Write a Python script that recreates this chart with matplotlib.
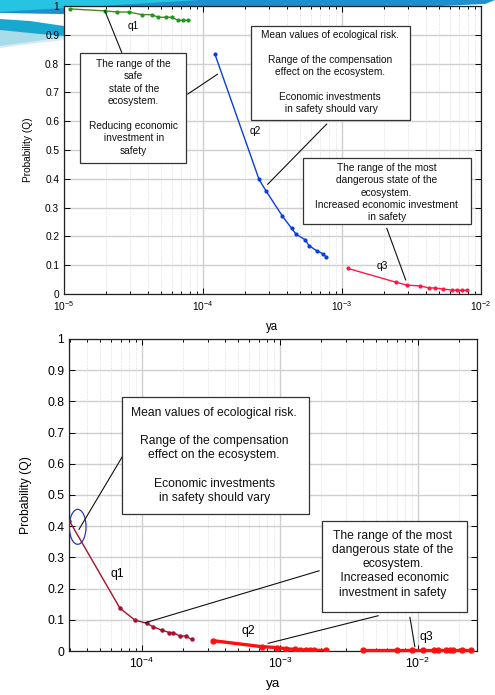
import matplotlib
matplotlib.use("Agg")
import matplotlib.pyplot as plt
from matplotlib.patches import Rectangle, Ellipse, Polygon

plt.rcParams['font.family'] = ['Liberation Sans', 'DejaVu Sans']
plt.rcParams['mathtext.fontset'] = 'custom'
plt.rcParams['mathtext.rm'] = 'Liberation Sans'
plt.rcParams['mathtext.it'] = 'Liberation Sans:italic'

# ---------------- data: top panel ----------------
top_q1_x = [1.10e-5, 1.97e-5, 2.42e-5, 2.94e-5, 3.62e-5, 4.28e-5, 4.77e-5, 5.39e-5, 5.96e-5, 6.64e-5, 7.14e-5, 7.84e-5]
top_q1_y = [0.990, 0.983, 0.979, 0.979, 0.970, 0.970, 0.961, 0.961, 0.961, 0.950, 0.950, 0.950]
top_q2_x = [1.22e-4, 2.53e-4, 2.83e-4, 3.72e-4, 4.34e-4, 4.67e-4, 5.44e-4, 5.79e-4, 6.58e-4, 7.33e-4, 7.70e-4]
top_q2_y = [0.832, 0.398, 0.359, 0.271, 0.228, 0.208, 0.188, 0.168, 0.150, 0.139, 0.128]
top_q3_x = [1.10e-3, 2.44e-3, 2.92e-3, 3.64e-3, 4.25e-3, 4.67e-3, 5.36e-3, 6.15e-3, 6.68e-3, 7.26e-3, 7.89e-3]
top_q3_y = [0.089, 0.041, 0.031, 0.028, 0.021, 0.021, 0.017, 0.014, 0.013, 0.013, 0.013]

# ---------------- data: bottom panel ----------------
bot_q1_x = [2.97e-5, 6.93e-5, 8.89e-5, 1.08e-4, 1.20e-4, 1.39e-4, 1.58e-4, 1.69e-4, 1.88e-4, 2.08e-4, 2.29e-4]
bot_q1_y = [0.418, 0.137, 0.099, 0.089, 0.078, 0.067, 0.059, 0.059, 0.048, 0.048, 0.037]
bot_q2_x = [3.29e-4, 7.36e-4, 9.46e-4, 1.10e-3, 1.28e-3, 1.40e-3, 1.54e-3, 1.65e-3, 1.76e-3, 2.15e-3]
bot_q2_y = [0.033, 0.014, 0.011, 0.0075, 0.005, 0.004, 0.003, 0.003, 0.002, 0.002]
bot_q3_x = [3.97e-3, 7.01e-3, 9.0e-3, 1.09e-2, 1.31e-2, 1.40e-2, 1.61e-2, 1.71e-2, 1.80e-2, 2.10e-2, 2.41e-2]
bot_q3_y = [0.002, 0.002, 0.002, 0.002, 0.002, 0.002, 0.002, 0.002, 0.002, 0.002, 0.002]

y_ticks = [0, 0.1, 0.2, 0.3, 0.4, 0.5, 0.6, 0.7, 0.8, 0.9, 1]
y_ticklabels = ['0', '0.1', '0.2', '0.3', '0.4', '0.5', '0.6', '0.7', '0.8', '0.9', '1']

top_box1 = "The range of the\nsafe\n state of the\necosystem.\n\nReducing economic\n investment in\nsafety"
top_box2 = "Mean values of ecological risk.\n\nRange of the compensation\neffect on the ecosystem.\n\nEconomic investments\n in safety should vary"
top_box3 = "The range of the most\ndangerous state of the\necosystem.\nIncreased economic investment\nin safety"
bot_box1 = "Mean values of ecological risk.\n\nRange of the compensation\neffect on the ecosystem.\n\nEconomic investments\nin safety should vary"
bot_box2 = "The range of the most\ndangerous state of the\necosystem.\n Increased economic\ninvestment in safety"

W, H = 495, 695
fig = plt.figure(figsize=(W / 100, H / 100), dpi=100)
fig.patch.set_facecolor('white')

# decorative background swooshes (figure pixel coords, y down)
def fpoly(pts, color, alpha=1.0):
    p = Polygon([(x / W, 1 - y / H) for x, y in pts], closed=True,
                transform=fig.transFigure, facecolor=color, edgecolor='none', alpha=alpha, zorder=-10)
    fig.patches.append(p)

fpoly([(0, 0), (495, 0), (485, 4), (420, 7), (300, 9), (150, 12), (60, 14), (0, 13)], '#1f8fd0')
fpoly([(0, 0), (200, 0), (100, 6), (30, 10), (0, 12)], '#27c3e3')
fpoly([(0, 19), (30, 21), (64, 26), (64, 37), (30, 42), (0, 46)], '#18a8cf')
fpoly([(0, 30), (40, 34), (64, 36), (64, 40), (30, 44), (0, 48)], '#cfe8f0', 0.8)

def style_axes(ax, fs):
    ax.set_zorder(1)
    ax.set_yticks(y_ticks)
    ax.set_yticklabels(y_ticklabels)
    ax.set_ylim(0, 1)
    ax.tick_params(which='both', direction='in', top=True, right=True, labelsize=fs, width=0.7)
    ax.tick_params(which='major', length=4)
    ax.tick_params(which='minor', length=2.5)
    ax.grid(True, which='major', color='#cfcfcf', lw=1.0, ls='-')
    ax.grid(True, which='minor', axis='x', color='#d5d5d5', lw=0.6, ls=':')
    ax.set_axisbelow(True)
    for s in ax.spines.values():
        s.set_linewidth(0.9)
        s.set_color('#222222')
    ax.set_ylabel('Probability (Q)', fontsize=fs)
    ax.set_xlabel('ya', fontsize=fs + 1)

def box(ax, x0, x1, y0, y1, text, fs, tx, ty, ls):
    ax.add_patch(Rectangle((x0, y0), x1 - x0, y1 - y0, transform=ax.transAxes,
                           facecolor='white', edgecolor='#333333', lw=0.9, zorder=5))
    ax.text(tx, ty, text, transform=ax.transAxes, ha='center', va='center',
            fontsize=fs, linespacing=ls, multialignment='center', zorder=6, color='#111111')

def seg(ax, x0, y0, x1, y1):
    ax.plot([x0, x1], [y0, y1], color='#111111', lw=0.8, zorder=4)

# ---------------- top panel ----------------
ax1 = fig.add_axes([64 / W, 1 - 294 / H, 417 / W, 288 / H])
ax1.set_xscale('log')
ax1.set_xlim(1e-5, 1e-2)
ax1.plot(top_q1_x, top_q1_y, color='#4a8a1c', lw=1.0, marker='o', ms=2, mfc='#1d9a1d', mec='#1d9a1d', zorder=3)
ax1.plot(top_q2_x, top_q2_y, color='#0a3ee0', lw=1.0, marker='o', ms=2, zorder=3)
ax1.plot(top_q3_x, top_q3_y, color='#ff1848', lw=1.0, marker='o', ms=2, zorder=3)
ax1.text(3.13e-5, 0.93, 'q1', fontsize=7.3, ha='center', va='center')
ax1.text(2.36e-4, 0.567, 'q2', fontsize=7.3, ha='center', va='center')
ax1.text(1.96e-3, 0.097, 'q3', fontsize=7.3, ha='center', va='center')
style_axes(ax1, 7.3)
ax1.yaxis.set_label_coords(-0.075, 0.5)
ax1.xaxis.set_label_coords(0.5, -0.095)

seg(ax1, 2.60e-5, 0.839, 1.97e-5, 0.983)
seg(ax1, 7.76e-5, 0.694, 1.27e-4, 0.763)
seg(ax1, 7.76e-4, 0.590, 2.92e-4, 0.381)
seg(ax1, 2.10e-3, 0.228, 2.87e-3, 0.049)
box(ax1, 0.0384, 0.2918, 0.4538, 0.8358, top_box1, 7.3, 0.1655, 0.6476, 1.3)
box(ax1, 0.4484, 0.8297, 0.6042, 0.9316, top_box2, 7.3, 0.638, 0.7698, 1.3)
box(ax1, 0.5739, 0.9753, 0.2431, 0.4712, top_box3, 7.3, 0.7739, 0.3524, 1.3)

# ---------------- bottom panel ----------------
ax2 = fig.add_axes([69 / W, 1 - 651 / H, 408 / W, 312 / H])
ax2.set_xscale('log')
ax2.set_xlim(2.96e-5, 2.68e-2)
ax2.plot(bot_q1_x, bot_q1_y, color='#a8102e', lw=1.0, marker='o', ms=2.2, zorder=3)
ax2.plot(bot_q2_x, bot_q2_y, color='#ff1010', lw=2.4, marker='o', ms=3.5, zorder=3)
ax2.plot(bot_q3_x, bot_q3_y, color='#ff1010', lw=2.4, marker='o', ms=3.5, zorder=3, clip_on=False)
ax2.text(6.62e-5, 0.247, 'q1', fontsize=8.7, ha='center', va='center')
ax2.text(5.9e-4, 0.065, 'q2', fontsize=8.7, ha='center', va='center')
ax2.text(1.15e-2, 0.046, 'q3', fontsize=8.7, ha='center', va='center')
style_axes(ax2, 8.7)
ax2.yaxis.set_label_coords(-0.09, 0.5)
ax2.xaxis.set_label_coords(0.5, -0.085)
ax2.add_patch(Ellipse((0.0213, 0.398), 0.041, 0.112, transform=ax2.transAxes,
                      facecolor='none', edgecolor='#2a3aa8', lw=0.9, zorder=4))

seg(ax2, 7.32e-5, 0.628, 3.50e-5, 0.390)
seg(ax2, 1.92e-3, 0.257, 1.06e-4, 0.0907)
seg(ax2, 5.15e-3, 0.113, 8.22e-4, 0.0247)
seg(ax2, 8.75e-3, 0.108, 9.50e-3, 0.0138)
box(ax2, 0.1292, 0.5890, 0.4391, 0.8151, bot_box1, 8.7, 0.3559, 0.6272, 1.25)
box(ax2, 0.6208, 0.9748, 0.124, 0.4176, bot_box2, 8.7, 0.7934, 0.2788, 1.25)

fig.savefig('out.png', dpi=100)
